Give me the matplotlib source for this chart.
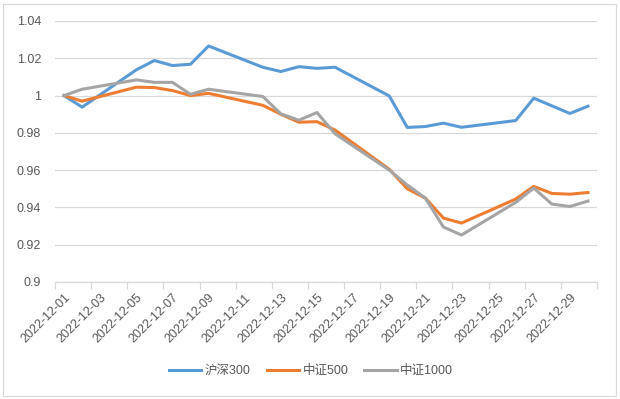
#!/usr/bin/env python3
import numpy as np
import pandas as pd
import matplotlib
matplotlib.use("Agg")
import matplotlib.pyplot as plt
import matplotlib.dates as mdates
from matplotlib.patches import Rectangle

# trading days of Dec 2022
dates = ["2022-12-01", "2022-12-02", "2022-12-05", "2022-12-06", "2022-12-07",
         "2022-12-08", "2022-12-09", "2022-12-12", "2022-12-13", "2022-12-14",
         "2022-12-15", "2022-12-16", "2022-12-19", "2022-12-20", "2022-12-21",
         "2022-12-22", "2022-12-23", "2022-12-26", "2022-12-27", "2022-12-28",
         "2022-12-29", "2022-12-30"]

hs300 = [1.000, 0.9938, 1.0138, 1.0188, 1.0161, 1.0168, 1.0266, 1.0152, 1.0129,
         1.0155, 1.0146, 1.0152, 0.9998, 0.9829, 0.9834, 0.9852, 0.9830, 0.9866,
         0.9986, 0.9945, 0.9904, 0.9943]
zz500 = [1.000, 0.9970, 1.0045, 1.0043, 1.0027, 1.0000, 1.0012, 0.9948, 0.9900,
         0.9857, 0.9860, 0.9815, 0.9605, 0.9500, 0.9450, 0.9343, 0.9316, 0.9445,
         0.9513, 0.9475, 0.9471, 0.9480]
zz1000 = [1.000, 1.0034, 1.0084, 1.0071, 1.0071, 1.0007, 1.0034, 0.9995, 0.9902,
          0.9868, 0.9909, 0.9795, 0.9600, 0.9520, 0.9450, 0.9295, 0.9252, 0.9427,
          0.9504, 0.9418, 0.9405, 0.9434]

series_names = ["沪深300", "中证500", "中证1000"]
colors = ["#5B9BD5", "#ED7D31", "#A5A5A5"]

tick_labels = ["2022-12-%02d" % d for d in range(1, 30, 2)]
y_ticks = [0.9, 0.92, 0.94, 0.96, 0.98, 1.0, 1.02, 1.04]
y_labels = ["0.9", "0.92", "0.94", "0.96", "0.98", "1", "1.02", "1.04"]


def main():
    plt.rcParams["font.family"] = ["Liberation Sans", "Noto Sans CJK SC", "DejaVu Sans"]
    txt = "#595959"
    grid = "#d9d9d9"

    fig = plt.figure(figsize=(6.2, 3.99), dpi=100)
    ax = fig.add_axes([55 / 620, 1 - 282 / 399, (597 - 55) / 620, (282 - 21) / 399])

    x = pd.to_datetime(dates)
    for vals, name, c in zip([hs300, zz500, zz1000], series_names, colors):
        ax.plot(x, vals, color=c, lw=2.2, label=name, solid_joinstyle="round")

    x0 = pd.Timestamp("2022-11-30 12:00")
    x1 = pd.Timestamp("2022-12-30 12:00")
    ax.set_xlim(x0, x1)
    ax.set_ylim(0.9, 1.04)

    ax.set_yticks(y_ticks, y_labels)
    ax.yaxis.grid(True, color=grid, lw=0.9)
    ax.set_axisbelow(True)

    major = pd.to_datetime(tick_labels)
    ax.set_xticks(major, tick_labels, rotation=45, ha="right", rotation_mode="anchor")
    minor = pd.date_range(x0, x1, freq="2D")
    ax.set_xticks(minor, minor=True)
    ax.tick_params(axis="x", which="major", length=0, pad=7, labelsize=9, labelcolor=txt)
    ax.tick_params(axis="x", which="minor", length=5, color=grid, width=0.9)
    ax.tick_params(axis="y", length=0, pad=10, labelsize=9, labelcolor=txt)

    for s in ["left", "right", "top"]:
        ax.spines[s].set_visible(False)
    ax.spines["bottom"].set_color(grid)
    ax.spines["bottom"].set_linewidth(0.9)

    fig.legend(loc="center", bbox_to_anchor=(311 / 620, 1 - 371 / 399), ncol=3,
               frameon=False, fontsize=9, labelcolor=txt, handlelength=2.6,
               handletextpad=0.25, columnspacing=1.3)

    fig.patches.append(Rectangle((3 / 620, 3 / 399), 613 / 620, 392 / 399,
                                 transform=fig.transFigure, fill=False,
                                 edgecolor=grid, lw=0.9))

    fig.savefig("out.png", facecolor="white")
    plt.close(fig)


if __name__ == "__main__":
    main()
